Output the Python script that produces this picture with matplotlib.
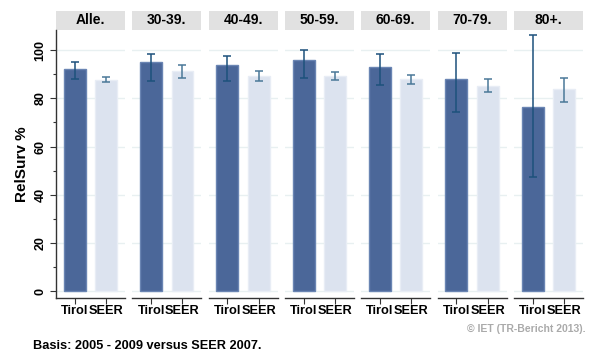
import matplotlib
matplotlib.use("Agg")
import matplotlib.pyplot as plt
import matplotlib.patches as patches
import numpy as np

plt.rcParams['font.family'] = ['Liberation Sans', 'DejaVu Sans']
plt.rcParams['font.weight'] = 'bold'

groups = ['Alle.', '30-39.', '40-49.', '50-59.', '60-69.', '70-79.', '80+.']
bar_labels = ['Tirol', 'SEER']

tirol = [92.1, 94.9, 93.8, 95.9, 93.1, 88.0, 76.3]
tirol_lo = [87.9, 87.2, 87.2, 88.3, 85.4, 74.2, 47.5]
tirol_hi = [95.2, 98.2, 97.5, 99.9, 98.3, 98.6, 106.3]

seer = [87.6, 91.3, 89.2, 89.2, 88.0, 85.2, 83.9]
seer_lo = [86.7, 88.3, 87.3, 87.6, 86.0, 82.7, 78.5]
seer_hi = [88.7, 93.7, 91.4, 91.0, 89.8, 87.9, 88.4]

W, H = 590, 354
fig = plt.figure(figsize=(W / 100, H / 100), dpi=100)
fig.patch.set_facecolor('white')

top_px, bot_px = 30, 297.7
panel_w = 69
pitch = 76.3
left0 = 56

for i, g in enumerate(groups):
    lx = left0 + i * pitch
    ax = fig.add_axes([lx / W, 1 - bot_px / H, panel_w / W, (bot_px - top_px) / H])
    ax.set_xlim(0.4, 2.6)
    ax.set_ylim(-2.6, 108.3)

    vals = [tirol[i], seer[i]]
    ax.bar([1, 2], vals, width=0.7, color=['#4b6799', '#dce3ef'],
           edgecolor=['#6a85b3', '#e8edf5'], linewidth=1, zorder=2)
    ax.errorbar([1], [tirol[i]], yerr=[[tirol[i] - tirol_lo[i]], [tirol_hi[i] - tirol[i]]],
                fmt='none', ecolor='#1d517c', elinewidth=1.1, capsize=3, capthick=1.1, zorder=3)
    ax.errorbar([2], [seer[i]], yerr=[[seer[i] - seer_lo[i]], [seer_hi[i] - seer[i]]],
                fmt='none', ecolor='#4a7898', elinewidth=1.1, capsize=3, capthick=1.1, zorder=3)

    for y in range(0, 101, 20):
        ax.axhline(y, color='#e8f0f1', lw=1, zorder=1)

    for s in ['top', 'right']:
        ax.spines[s].set_visible(False)
    ax.spines['bottom'].set_color('#333333')
    ax.spines['bottom'].set_linewidth(1)

    ax.set_xticks([1, 2])
    ax.set_xticklabels(bar_labels, fontsize=9.2, fontweight='bold')
    ax.tick_params(axis='x', length=4, width=0.8, color='#333333', pad=1)

    if i == 0:
        ax.spines['left'].set_color('#333333')
        ax.spines['left'].set_linewidth(1)
        ax.set_yticks(range(0, 101, 20))
        ax.set_yticks(range(10, 100, 20), minor=True)
        ax.set_yticklabels([str(v) for v in range(0, 101, 20)], rotation=90,
                           va='center', fontsize=9, fontweight='bold')
        ax.tick_params(axis='y', which='major', length=4, width=0.8, color='#333333', pad=3)
        ax.tick_params(axis='y', which='minor', length=2, width=0.8, color='#333333')
        ax.set_ylabel('RelSurv %', fontsize=11, fontweight='bold', labelpad=4)
    else:
        ax.spines['left'].set_visible(False)
        ax.set_yticks([])

    ax.set_facecolor('white')

    # header strip
    hdr = patches.Rectangle((0, 1.0), 1, 19 / (bot_px - top_px), transform=ax.transAxes,
                            facecolor='#e1e1e1', edgecolor='none', clip_on=False)
    ax.add_patch(hdr)
    ax.text(0.5, 1.0 + 9.5 / (bot_px - top_px), g, transform=ax.transAxes,
            ha='center', va='center', fontsize=10, fontweight='bold')

fig.text(586 / W, 1 - 329 / H, '\u00a9 IET (TR-Bericht 2013).', ha='right', va='center',
         fontsize=7.5, fontweight='bold', color='#aaaaaa')
fig.text(33 / W, 1 - 346 / H, 'Basis: 2005 - 2009 versus SEER 2007.', ha='left', va='center',
         fontsize=9.2, fontweight='bold', color='black')

fig.savefig('out.png', dpi=100)
